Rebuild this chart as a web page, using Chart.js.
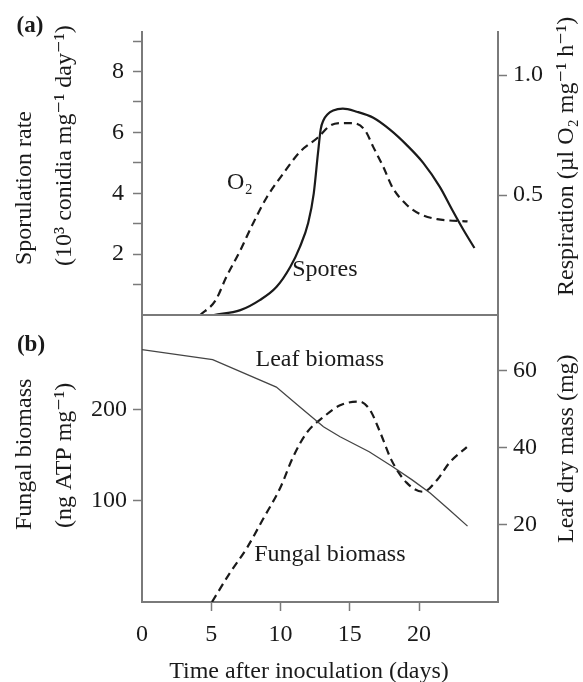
<!DOCTYPE html>
<html>
<head>
<meta charset="utf-8">
<script src="https://cdn.jsdelivr.net/npm/chart.js@4.4.1/dist/chart.umd.min.js"></script>
<style>
  body { margin: 0; background: #fff; }
  #wrap { position: relative; width: 583px; height: 682px; }
  canvas { position: absolute; left: 0; }
  #chartA { top: 0; }
  #chartB { top: 305px; }
</style>
</head>
<body>
<div id="wrap">
  <canvas id="chartA" width="583" height="320"></canvas>
  <canvas id="chartB" width="583" height="377"></canvas>
</div>
<script>
// ---- data ----
// (a) sporulation rate (left axis) and respiration (right axis)
const sporeDays = [5.2, 7.1, 8.5, 9.7, 10.7, 11.4, 12.0, 12.4, 12.7, 12.9, 13.1, 13.4, 13.8, 14.5, 15.5, 16.7, 17.9, 19.1, 20.3, 21.5, 22.4, 23.2, 24.0];
const sporeRate = [0, 0.16, 0.49, 0.92, 1.58, 2.24, 3.03, 4.0, 5.3, 6.1, 6.4, 6.6, 6.72, 6.78, 6.68, 6.48, 6.09, 5.59, 5.0, 4.21, 3.45, 2.8, 2.2];
const o2Days = [4.2, 5.3, 6.1, 7.1, 8.0, 9.0, 10.2, 11.4, 12.7, 13.6, 14.5, 15.2, 16.1, 16.7, 17.4, 18.1, 19.1, 20.1, 21.3, 23.5];
const o2Resp = [0, 0.06, 0.16, 0.27, 0.38, 0.49, 0.59, 0.68, 0.74, 0.79, 0.80, 0.80, 0.77, 0.70, 0.62, 0.53, 0.46, 0.42, 0.40, 0.39];

// (b) leaf dry mass (right axis) and fungal biomass (left axis)
const leafDays = [0, 5.1, 9.7, 11.4, 13.1, 14.3, 16.4, 18.1, 19.5, 20.8, 22.2, 23.5];
const leafMass = [65.5, 62.9, 55.8, 50.6, 45.5, 42.9, 39.0, 35.1, 31.7, 28.3, 23.9, 19.7];
const fungalDays = [5.05, 6.35, 7.6, 8.7, 10.0, 10.9, 11.9, 13.1, 14.3, 15.7, 16.45, 17.2, 18.0, 19.1, 20.3, 21.3, 22.2, 23.45];
const fungalATP = [-11, 21, 49, 79, 115, 148, 175, 192, 205, 209, 200, 175, 145, 120, 110, 123, 142, 159];

// tick values
const dayTicks = [0, 5, 10, 15, 20];
const sporeTicks = [1, 2, 3, 4, 5, 6, 7, 8, 9];
const respTicks = [0.5, 1.0];
const fungalTicks = [100, 200];
const leafTicks = [20, 40, 60];

// ---- styles ----
const ink = '#1a1a1a';
const axisGray = '#7a7a7a';
const serif = "'Liberation Serif', 'DejaVu Serif', 'Times New Roman', serif";
const tickFont = { family: serif, size: 24 };
const textFont = '24px ' + serif;
const panelFont = 'bold 23px ' + serif;
const B_TOP = 305; // page offset of the lower canvas

function zip(xs, ys) {
    return xs.map((x, i) => ({ x: x, y: ys[i] }));
}

function setTicks(values) {
    return function(scale) {
        scale.ticks = values.map(v => ({ value: v }));
    };
}

function fixWidth(w) {
    return function(scale) {
        scale.width = w;
        scale.paddingTop = 0;
        scale.paddingBottom = 0;
    };
}

function yAxis(position, min, max, ticks, labelFn, padding) {
    return {
        type: 'linear',
        position: position,
        min: min,
        max: max,
        afterBuildTicks: setTicks(ticks),
        afterFit: fixWidth(position === 'left' ? 142 : 85),
        ticks: { callback: labelFn, font: tickFont, color: ink, padding: padding, autoSkip: false },
        grid: { drawOnChartArea: false, drawTicks: true, tickLength: 9, tickColor: axisGray, tickWidth: 1.5 },
        border: { color: axisGray, width: 2 }
    };
}

// draws curve labels (data coordinates) and axis titles / panel letters
const textPlugin = {
    id: 'panelText',
    afterDraw(chart, args, opts) {
        const ctx = chart.ctx;
        ctx.save();
        ctx.fillStyle = ink;
        ctx.textBaseline = 'middle';
        (opts.labels || []).forEach(l => {
            ctx.font = textFont;
            ctx.textAlign = 'center';
            ctx.fillText(l.text, chart.scales.x.getPixelForValue(l.x), chart.scales[l.axis].getPixelForValue(l.y));
        });
        (opts.titles || []).forEach(t => {
            ctx.save();
            ctx.font = t.font || textFont;
            ctx.translate(t.x, t.y - (opts.offset || 0));
            ctx.rotate(t.rotate || 0);
            ctx.textAlign = t.align || 'center';
            ctx.fillText(t.text, 0, 0);
            ctx.restore();
        });
        ctx.restore();
    }
};

const up = -Math.PI / 2;

// ---- panel (a) ----
new Chart(document.getElementById('chartA'), {
    type: 'line',
    data: {
        datasets: [
            {
                label: 'Spores',
                data: zip(sporeDays, sporeRate),
                yAxisID: 'yL',
                borderColor: ink,
                borderWidth: 2.2,
                pointRadius: 0,
                cubicInterpolationMode: 'monotone'
            },
            {
                label: 'O2',
                data: zip(o2Days, o2Resp),
                yAxisID: 'yR',
                borderColor: ink,
                borderWidth: 2.2,
                borderDash: [8, 5],
                pointRadius: 0,
                cubicInterpolationMode: 'monotone'
            }
        ]
    },
    options: {
        responsive: false,
        animation: false,
        layout: { padding: { top: 32, bottom: 5, left: 0, right: 0 } },
        plugins: {
            legend: { display: false },
            tooltip: { enabled: false },
            panelText: {
                labels: [
                    { text: 'O\u2082', x: 7.07, y: 4.34, axis: 'yL' },
                    { text: 'Spores', x: 13.2, y: 1.48, axis: 'yL' }
                ],
                titles: [
                    { text: '(a)', x: 30, y: 26, font: panelFont },
                    { text: 'Sporulation rate', x: 25, y: 265, rotate: up, align: 'left' },
                    { text: '(10\u00b3 conidia mg\u207b\u00b9 day\u207b\u00b9)', x: 65, y: 266, rotate: up, align: 'left' },
                    { text: 'Respiration (\u00b5l O\u2082 mg\u207b\u00b9 h\u207b\u00b9)', x: 567, y: 296, rotate: up, align: 'left' }
                ]
            }
        },
        scales: {
            x: { type: 'linear', min: 0, max: 25.7, display: false },
            yL: yAxis('left', 0, 9.3, sporeTicks, v => (v % 2 === 0 ? String(v) : ''), 9),
            yR: yAxis('right', 0, 1.18, respTicks, v => v.toFixed(1), 6)
        }
    },
    plugins: [textPlugin]
});

// ---- panel (b) ----
new Chart(document.getElementById('chartB'), {
    type: 'line',
    data: {
        datasets: [
            {
                label: 'Leaf biomass',
                data: zip(leafDays, leafMass),
                yAxisID: 'yR',
                borderColor: '#444',
                borderWidth: 1.3,
                pointRadius: 0,
                tension: 0
            },
            {
                label: 'Fungal biomass',
                data: zip(fungalDays, fungalATP),
                yAxisID: 'yL',
                borderColor: ink,
                borderWidth: 2.2,
                borderDash: [8, 5],
                pointRadius: 0,
                cubicInterpolationMode: 'monotone'
            }
        ]
    },
    options: {
        responsive: false,
        animation: false,
        layout: { padding: { top: 10, bottom: 0, left: 0, right: 0 } },
        plugins: {
            legend: { display: false },
            tooltip: { enabled: false },
            panelText: {
                offset: B_TOP,
                labels: [
                    { text: 'Leaf biomass', x: 12.84, y: 62.9, axis: 'yR' },
                    { text: 'Fungal biomass', x: 13.56, y: 40.7, axis: 'yL' }
                ],
                titles: [
                    { text: '(b)', x: 31, y: 345, font: panelFont },
                    { text: 'Fungal biomass', x: 25, y: 530, rotate: up, align: 'left' },
                    { text: '(ng ATP mg\u207b\u00b9)', x: 65, y: 528, rotate: up, align: 'left' },
                    { text: 'Leaf dry mass (mg)', x: 567, y: 543, rotate: up, align: 'left' },
                    { text: 'Time after inoculation (days)', x: 309, y: 672 }
                ]
            }
        },
        scales: {
            x: {
                type: 'linear',
                position: 'bottom',
                min: 0,
                max: 25.7,
                afterBuildTicks: setTicks(dayTicks),
                afterFit: function(scale) {
                    scale.height = 80;
                    scale.paddingLeft = 0;
                    scale.paddingRight = 0;
                },
                ticks: { font: tickFont, color: ink, padding: 9, autoSkip: false, maxRotation: 0 },
                grid: {
                    drawOnChartArea: false,
                    tickLength: 9,
                    tickWidth: 1.5,
                    tickColor: c => (c.tick && c.tick.value === 0 ? 'rgba(0,0,0,0)' : axisGray)
                },
                border: { color: axisGray, width: 2 }
            },
            xTop: {
                type: 'linear',
                position: 'top',
                min: 0,
                max: 1,
                ticks: { display: false },
                grid: { display: false },
                border: { display: true, color: axisGray, width: 2 },
                afterFit: function(scale) {
                    scale.height = 0;
                    scale.paddingLeft = 0;
                    scale.paddingRight = 0;
                }
            },
            yL: yAxis('left', -11, 304, fungalTicks, v => String(v), 6),
            yR: yAxis('right', 0, 74.5, leafTicks, v => String(v), 6)
        }
    },
    plugins: [textPlugin]
});
</script>
</body>
</html>
